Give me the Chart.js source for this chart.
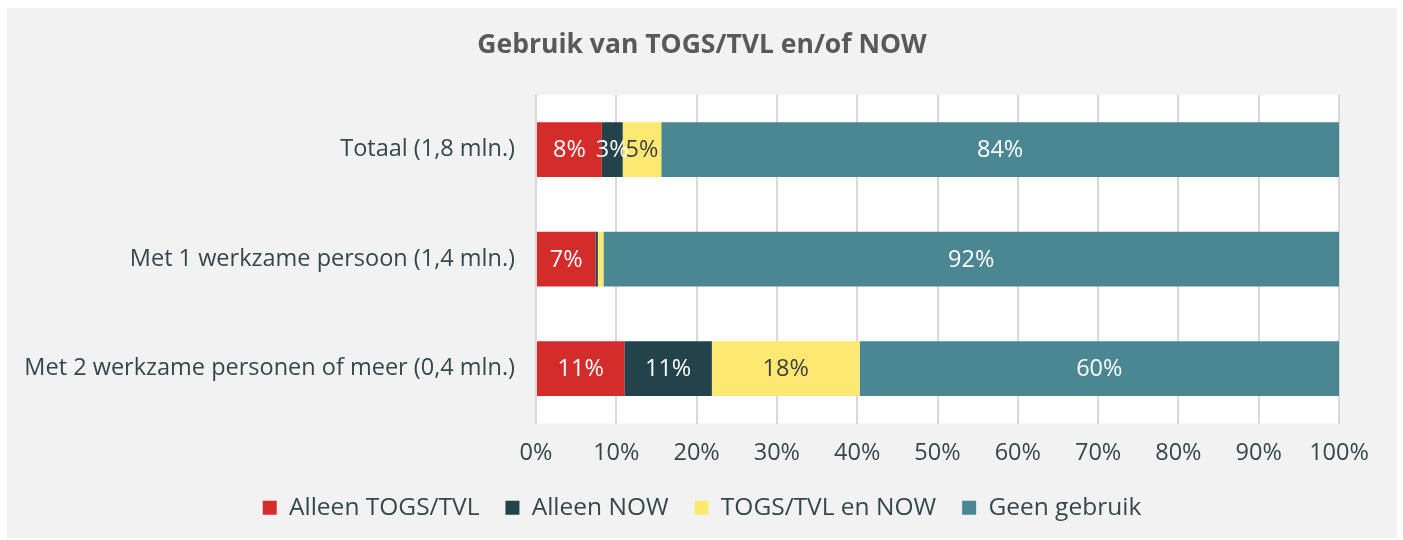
<!DOCTYPE html>
<html>
<head>
<meta charset="utf-8">
<script src="https://cdn.jsdelivr.net/npm/chart.js@4.4.0/dist/chart.umd.min.js"></script>
<style>
  html, body { margin: 0; padding: 0; background: #ffffff; }
  #box {
    position: absolute; left: 7px; top: 8px;
    width: 1390px; height: 530px;
    background: #f2f2f2;
  }
</style>
</head>
<body>
<div id="box"><canvas id="chart"></canvas></div>
<script>
// data
var categories = [
  "Totaal (1,8 mln.)",
  "Met 1 werkzame persoon (1,4 mln.)",
  "Met 2 werkzame personen of meer (0,4 mln.)"
];
var seriesNames = ["Alleen TOGS/TVL", "Alleen NOW", "TOGS/TVL en NOW", "Geen gebruik"];
var alleenTogs = [8.2, 7.4, 11.0];
var alleenNow = [2.6, 0.3, 10.9];
var togsEnNow = [4.8, 0.7, 18.4];
var geenGebruik = [84.4, 91.6, 59.7];
var labelTexts = [
  ["8%", "7%", "11%"],
  ["3%", "", "11%"],
  ["5%", "", "18%"],
  ["84%", "92%", "60%"]
];
var xTicks = [0, 10, 20, 30, 40, 50, 60, 70, 80, 90, 100];

var colors = ["#d42b2b", "#23424a", "#fde972", "#4a8793"];
var labelColors = ["#ffffff", "#ffffff", "#404040", "#ffffff"];
var textColor = "#34474d";
var fontFamily = "'Open Sans', Lato, sans-serif";

var barLabels = {
  id: "barLabels",
  afterDatasetsDraw: function (chart) {
    var ctx = chart.ctx;
    ctx.save();
    ctx.font = "23.5px " + fontFamily;
    ctx.textAlign = "center";
    ctx.textBaseline = "middle";
    chart.data.datasets.forEach(function (ds, i) {
      chart.getDatasetMeta(i).data.forEach(function (bar, j) {
        var t = labelTexts[i][j];
        if (!t) return;
        ctx.fillStyle = labelColors[i];
        ctx.fillText(t, (bar.x + bar.base) / 2, bar.y + 1);
      });
    });
    ctx.restore();
  }
};

var seriesData = [alleenTogs, alleenNow, togsEnNow, geenGebruik];

new Chart(document.getElementById("chart"), {
  type: "bar",
  data: {
    labels: categories,
    datasets: seriesNames.map(function (name, i) {
      return {
        label: name,
        data: seriesData[i],
        backgroundColor: colors[i],
        borderWidth: 0,
        barPercentage: 0.5,
        categoryPercentage: 1.0
      };
    })
  },
  options: {
    indexAxis: "y",
    responsive: true,
    maintainAspectRatio: false,
    animation: false,
    layout: { padding: { left: 0, right: 0, top: 0, bottom: 8 } },
    plugins: {
      title: {
        display: true,
        text: "Gebruik van TOGS/TVL en/of NOW",
        color: "#595959",
        font: { family: fontFamily, size: 26.5, weight: "bold" },
        padding: { top: 22, bottom: 33 }
      },
      legend: {
        position: "bottom",
        labels: {
          color: textColor,
          font: { family: fontFamily, size: 24.5 },
          boxWidth: 14,
          boxHeight: 14,
          padding: 26
        }
      },
      tooltip: { enabled: false }
    },
    scales: {
      x: {
        stacked: true,
        min: 0,
        max: 100,
        afterBuildTicks: function (scale) {
          scale.ticks = xTicks.map(function (v) { return { value: v }; });
        },
        afterFit: function (scale) {
          scale.height = 46;
          scale.paddingRight = 58;
        },
        ticks: {
          color: textColor,
          font: { family: fontFamily, size: 23.5 },
          padding: 16,
          callback: function (v) { return v + "%"; }
        },
        grid: { color: "#d9d9d9", lineWidth: 2, drawTicks: false },
        border: { display: false }
      },
      y: {
        stacked: true,
        afterFit: function (scale) { scale.width = 529; },
        ticks: {
          color: textColor,
          font: { family: fontFamily, size: 23.5 },
          padding: 21
        },
        grid: { display: false, drawTicks: false },
        border: { color: "#d9d9d9", width: 2 }
      }
    }
  },
  plugins: [barLabels, {
    id: "plotBg",
    beforeDraw: function (chart) {
      var a = chart.chartArea;
      chart.ctx.save();
      chart.ctx.fillStyle = "#ffffff";
      chart.ctx.fillRect(a.left, a.top, a.right - a.left, a.bottom - a.top);
      chart.ctx.restore();
    }
  }]
});
</script>
</body>
</html>
